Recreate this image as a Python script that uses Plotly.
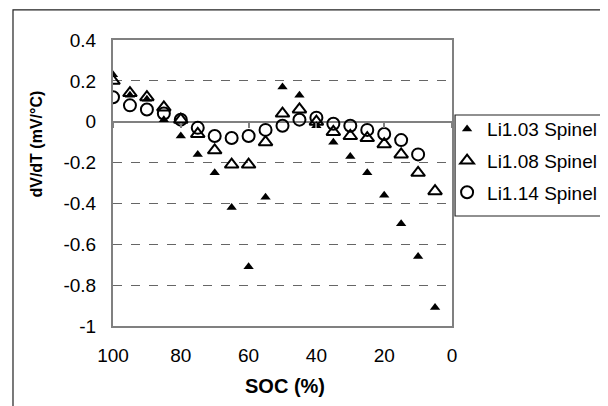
import plotly.graph_objects as go

soc = [100, 95, 90, 85, 80, 75, 70, 65, 60, 55, 50, 45, 40, 35, 30, 25, 20, 15, 10, 5]
li103 = [0.23, 0.13, 0.11, 0.01, -0.07, -0.16, -0.25, -0.42, -0.71, -0.37,
         0.17, 0.13, -0.02, -0.10, -0.17, -0.25, -0.36, -0.50, -0.66, -0.91]
li108 = [0.20, 0.14, 0.12, 0.07, 0.01, -0.06, -0.14, -0.21, -0.21, -0.10,
         0.04, 0.06, 0.00, -0.05, -0.07, -0.08, -0.11, -0.16, -0.25, -0.34]
soc14 = [100, 95, 90, 85, 80, 75, 70, 65, 60, 55, 50, 45, 40, 35, 30, 25, 20, 15, 10]
li114 = [0.12, 0.08, 0.06, 0.04, 0.01, -0.03, -0.07, -0.08, -0.07, -0.04,
         -0.02, 0.01, 0.02, -0.01, -0.02, -0.04, -0.06, -0.09, -0.16]

y_ticks = [0.4, 0.2, 0, -0.2, -0.4, -0.6, -0.8, -1]
y_tick_text = ["0.4", "0.2", "0", "-0.2", "-0.4", "-0.6", "-0.8", "-1"]
x_ticks = [100, 80, 60, 40, 20, 0]
x_tick_text = ["100", "80", "60", "40", "20", "0"]

FONT = "Liberation Sans, Arial, sans-serif"
Y_MIN, Y_MAX = -1, 0.4

fig = go.Figure()
fig.add_trace(go.Scatter(x=soc, y=li103, mode="markers", name="Li1.03 Spinel",
                         legendgroup="a",
                         marker=dict(symbol="triangle-up", size=9, color="black")))
fig.add_trace(go.Scatter(x=soc, y=li108, mode="markers", name="Li1.08 Spinel",
                         legendgroup="b",
                         marker=dict(symbol="triangle-up-open", size=12, color="black",
                                     line=dict(color="black", width=2))))
fig.add_trace(go.Scatter(x=soc14, y=li114, mode="markers", name="Li1.14 Spinel",
                         legendgroup="c",
                         marker=dict(symbol="circle-open", size=12, color="black",
                                     line=dict(color="black", width=2))))

fig.update_layout(
    width=600, height=398,
    margin=dict(l=105, r=156, t=32, b=80, autoexpand=False),
    paper_bgcolor="white", plot_bgcolor="white",
    font=dict(family=FONT, color="black", size=19),
    showlegend=True,
    legend=dict(x=0.9855, y=0.755, xanchor="left", yanchor="top",
                bgcolor="rgba(0,0,0,0)", borderwidth=0, tracegroupgap=4,
                font=dict(family=FONT, size=19, color="black")),
    xaxis=dict(range=[100, 0], tickvals=x_ticks, ticktext=x_tick_text,
               showgrid=False, zeroline=False, showline=True, linecolor="#808080",
               linewidth=2, mirror=True, ticks="", ticklabelstandoff=11,
               tickfont=dict(size=19)),
    xaxis2=dict(range=[100, 0], tickvals=x_ticks, overlaying="x", anchor="free",
                position=(0 - Y_MIN) / (Y_MAX - Y_MIN), side="bottom",
                showticklabels=False, showgrid=False, zeroline=False, showline=False,
                ticks="outside", ticklen=5, tickwidth=1.5, tickcolor="#808080"),
    yaxis=dict(range=[Y_MIN, Y_MAX], tickvals=y_ticks, ticktext=y_tick_text,
               showgrid=True, gridcolor="#666666", griddash="dash", gridwidth=1,
               zeroline=True, zerolinecolor="#808080", zerolinewidth=1.5,
               showline=True, linecolor="#808080", linewidth=2, mirror=True,
               ticks="", ticklabelstandoff=11, tickfont=dict(size=19)),
    shapes=[
        dict(type="rect", xref="paper", yref="paper", x0=-0.295, x1=1.6,
             y0=-0.4, y1=1.105, line=dict(color="#222222", width=1.2),
             fillcolor="rgba(0,0,0,0)", layer="below"),
        dict(type="rect", xref="paper", yref="paper", x0=1.009, x1=1.6,
             y0=0.3846, y1=0.7378, line=dict(color="#222222", width=1.2),
             fillcolor="rgba(0,0,0,0)"),
    ],
    annotations=[
        dict(text="<b>dV/dT (mV/°C)</b>", xref="paper", yref="paper",
             x=-0.227, y=0.6346, textangle=-90, showarrow=False,
             xanchor="center", yanchor="middle",
             font=dict(family=FONT, size=16, color="black")),
        dict(text="<b>SOC (%)</b>", xref="paper", yref="paper",
             x=0.507, y=-0.21, showarrow=False, xanchor="center", yanchor="middle",
             font=dict(family=FONT, size=20, color="black")),
    ],
)
# dummy invisible trace to activate the overlay axis carrying the zero-line ticks
fig.add_trace(go.Scatter(x=[x_ticks[0]], y=[0], xaxis="x2", mode="markers",
                         marker=dict(opacity=0), showlegend=False, hoverinfo="skip"))

fig.write_html("out.html")
